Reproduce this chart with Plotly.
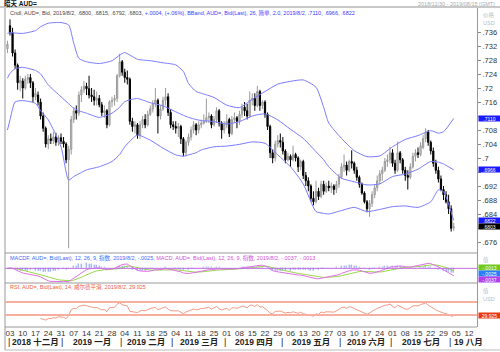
import numpy as np
import pandas as pd
import plotly.graph_objects as go

# ---------------- data (AUD= daily, 2018/11/30 - 2019/08/02) ----------------
open_ = [0.7312,
 0.7378,0.7358,0.7300,0.7265,0.7215, 0.7220,0.7200,0.7225,0.7230,0.7215,
 0.7175,0.7180,0.7160,0.7120,0.7085, 0.7040,0.7055,0.7050,0.7060,0.7045,
 0.7058,0.7048,0.7040,0.6995,0.7025, 0.7110,0.7135,0.7128,0.7180,0.7195,
 0.7205,0.7198,0.7180,0.7175,0.7165, 0.7170,0.7152,0.7130,0.7135,0.7095,
 0.7160,0.7165,0.7170,0.7235,0.7275, 0.7245,0.7230,0.7225,0.7105,0.7090,
 0.7095,0.7065,0.7095,0.7110,0.7095, 0.7125,0.7140,0.7155,0.7165,0.7120,
 0.7140,0.7165,0.7175,0.7130,0.7095, 0.7090,0.7085,0.7090,0.7055,0.7015,
 0.7045,0.7060,0.7080,0.7095,0.7080, 0.7095,0.7100,0.7105,0.7115,0.7120,
 0.7095,0.7110,0.7135,0.7100,0.7080, 0.7095,0.7110,0.7070,0.7110,0.7115,
 0.7105,0.7125,0.7145,0.7135,0.7120, 0.7165,0.7170,0.7150,0.7190,0.7150,
 0.7160,0.7125,0.7090,0.7015,0.7000, 0.7040,0.7050,0.7045,0.7020,0.6995,
 0.7005,0.6995,0.7010,0.7000,0.6975, 0.6990,0.6950,0.6935,0.6920,0.6885,
 0.6875,0.6905,0.6890,0.6925,0.6905, 0.6920,0.6915,0.6920,0.6910,0.6925,
 0.6945,0.6975,0.6980,0.6965,0.6990, 0.6985,0.6965,0.6945,0.6925,0.6900,
 0.6875,0.6855,0.6870,0.6895,0.6915, 0.6935,0.6955,0.6965,0.6990,0.6995,
 0.7015,0.6985,0.6965,0.7015,0.6995, 0.6965,0.6950,0.6945,0.6975,0.7005,
 0.7015,0.7010,0.7030,0.7055,0.7075, 0.7045,0.7020,0.6985,0.6965,0.6940,
 0.6910,0.6895,0.6875,0.6855,0.6800]
high = [0.7335,
 0.7396,0.7372,0.7310,0.7270,0.7235, 0.7228,0.7235,0.7240,0.7240,0.7220,
 0.7200,0.7190,0.7170,0.7130,0.7090, 0.7065,0.7070,0.7075,0.7072,0.7065,
 0.7070,0.7060,0.7045,0.7035,0.7120, 0.7145,0.7150,0.7190,0.7205,0.7220,
 0.7215,0.7235,0.7200,0.7195,0.7190, 0.7180,0.7160,0.7150,0.7140,0.7165,
 0.7175,0.7180,0.7240,0.7298,0.7280, 0.7255,0.7250,0.7230,0.7115,0.7105,
 0.7100,0.7105,0.7120,0.7125,0.7135, 0.7150,0.7165,0.7200,0.7170,0.7150,
 0.7175,0.7200,0.7185,0.7140,0.7105, 0.7105,0.7100,0.7095,0.7060,0.7050,
 0.7070,0.7090,0.7105,0.7100,0.7105, 0.7110,0.7125,0.7170,0.7130,0.7125,
 0.7120,0.7145,0.7140,0.7105,0.7105, 0.7125,0.7115,0.7120,0.7130,0.7120,
 0.7135,0.7155,0.7160,0.7155,0.7190, 0.7185,0.7185,0.7206,0.7195,0.7165,
 0.7165,0.7130,0.7095,0.7025,0.7050, 0.7065,0.7070,0.7060,0.7025,0.7015,
 0.7010,0.7035,0.7015,0.7005,0.6995, 0.6995,0.6960,0.6945,0.6925,0.6905,
 0.6935,0.6915,0.6935,0.6935,0.6930, 0.6935,0.6930,0.6925,0.6935,0.6955,
 0.6985,0.7010,0.6990,0.6995,0.7022, 0.6990,0.6975,0.6950,0.6930,0.6905,
 0.6880,0.6880,0.6905,0.6925,0.6950, 0.6965,0.6975,0.7000,0.7010,0.7032,
 0.7025,0.6995,0.7047,0.7020,0.7000, 0.6975,0.6965,0.6985,0.7015,0.7025,
 0.7030,0.7045,0.7065,0.7085,0.7080, 0.7050,0.7030,0.6995,0.6975,0.6950,
 0.6920,0.6905,0.6895,0.6865,0.6815]
low = [0.7300,
 0.7350,0.7290,0.7255,0.7195,0.7190, 0.7170,0.7195,0.7212,0.7200,0.7160,
 0.7165,0.7150,0.7110,0.7075,0.7030, 0.7025,0.7040,0.7040,0.7035,0.7035,
 0.7040,0.7030,0.6985,0.6742,0.7010, 0.7100,0.7110,0.7120,0.7160,0.7185,
 0.7180,0.7170,0.7160,0.7150,0.7150, 0.7145,0.7120,0.7115,0.7085,0.7090,
 0.7145,0.7150,0.7160,0.7230,0.7235, 0.7215,0.7210,0.7095,0.7075,0.7070,
 0.7055,0.7055,0.7085,0.7085,0.7090, 0.7120,0.7130,0.7145,0.7070,0.7110,
 0.7135,0.7150,0.7120,0.7085,0.7080, 0.7070,0.7060,0.7040,0.7005,0.7005,
 0.7035,0.7050,0.7070,0.7065,0.7070, 0.7085,0.7095,0.7100,0.7100,0.7085,
 0.7090,0.7100,0.7090,0.7055,0.7070, 0.7085,0.7060,0.7065,0.7100,0.7085,
 0.7095,0.7115,0.7120,0.7110,0.7115, 0.7150,0.7135,0.7145,0.7135,0.7140,
 0.7115,0.7080,0.7000,0.6985,0.6990, 0.7030,0.7030,0.7010,0.6985,0.6990,
 0.6975,0.6990,0.6990,0.6960,0.6965, 0.6940,0.6920,0.6905,0.6875,0.6865,
 0.6870,0.6880,0.6885,0.6895,0.6900, 0.6905,0.6900,0.6895,0.6900,0.6915,
 0.6940,0.6960,0.6950,0.6960,0.6970, 0.6955,0.6935,0.6915,0.6895,0.6870,
 0.6845,0.6832,0.6860,0.6885,0.6905, 0.6925,0.6935,0.6960,0.6975,0.6985,
 0.6975,0.6955,0.6960,0.6985,0.6955, 0.6935,0.6910,0.6940,0.6970,0.6990,
 0.7000,0.7005,0.7025,0.7045,0.7035, 0.7010,0.6975,0.6955,0.6930,0.6905,
 0.6880,0.6870,0.6840,0.6790,0.6792]
close = [0.7325,
 0.7358,0.7300,0.7265,0.7215,0.7222, 0.7200,0.7225,0.7230,0.7215,0.7175,
 0.7185,0.7160,0.7120,0.7085,0.7040, 0.7055,0.7050,0.7060,0.7045,0.7058,
 0.7048,0.7040,0.6995,0.7025,0.7110, 0.7135,0.7128,0.7180,0.7195,0.7205,
 0.7198,0.7180,0.7175,0.7165,0.7170, 0.7152,0.7130,0.7135,0.7095,0.7160,
 0.7165,0.7170,0.7235,0.7275,0.7245, 0.7230,0.7225,0.7105,0.7090,0.7095,
 0.7065,0.7095,0.7110,0.7095,0.7125, 0.7140,0.7155,0.7165,0.7120,0.7140,
 0.7165,0.7175,0.7130,0.7095,0.7090, 0.7085,0.7090,0.7055,0.7015,0.7045,
 0.7060,0.7080,0.7095,0.7080,0.7095, 0.7100,0.7105,0.7115,0.7120,0.7095,
 0.7110,0.7135,0.7100,0.7080,0.7095, 0.7105,0.7070,0.7110,0.7115,0.7105,
 0.7125,0.7145,0.7135,0.7120,0.7165, 0.7170,0.7150,0.7190,0.7150,0.7160,
 0.7125,0.7090,0.7015,0.7000,0.7040, 0.7050,0.7045,0.7020,0.6995,0.7005,
 0.6995,0.7010,0.7000,0.6975,0.6990, 0.6950,0.6935,0.6920,0.6885,0.6875,
 0.6905,0.6890,0.6925,0.6905,0.6920, 0.6915,0.6920,0.6910,0.6925,0.6945,
 0.6975,0.6980,0.6965,0.6990,0.6985, 0.6965,0.6945,0.6925,0.6900,0.6875,
 0.6855,0.6870,0.6895,0.6915,0.6935, 0.6955,0.6965,0.6990,0.6995,0.7015,
 0.6985,0.6965,0.7015,0.6995,0.6965, 0.6950,0.6945,0.6975,0.7005,0.7015,
 0.7010,0.7035,0.7055,0.7075,0.7045, 0.7020,0.6985,0.6965,0.6940,0.6910,
 0.6895,0.6875,0.6855,0.6799,0.6803]

band_dates = ["2018-11-30","2018-12-03","2018-12-05","2018-12-10","2018-12-17","2018-12-19",
 "2018-12-24","2018-12-31","2019-01-03","2019-01-07","2019-01-09","2019-01-14","2019-01-21",
 "2019-01-28","2019-01-31","2019-02-04","2019-02-07","2019-02-11","2019-02-18","2019-02-25",
 "2019-03-04","2019-03-07","2019-03-11","2019-03-14","2019-03-18","2019-03-25","2019-04-01",
 "2019-04-08","2019-04-15","2019-04-22","2019-04-29","2019-05-06","2019-05-13","2019-05-20",
 "2019-05-23","2019-05-27","2019-06-03","2019-06-10","2019-06-17","2019-06-24","2019-07-01",
 "2019-07-08","2019-07-15","2019-07-22","2019-07-25","2019-07-29","2019-08-02"]
bb_upper = [.7356,.7358,.7357,.7356,.7364,.7375,.7385,.7387,.7380,.7328,.7285,.7275,.7270,
 .7278,.7294,.7301,.7290,.7282,.7278,.7272,.7266,.7247,.7213,.7190,.7185,.7173,.7151,
 .7144,.7168,.7190,.7211,.7219,.7223,.7202,.7145,.7100,.7056,.7021,.7004,.7006,.7032,
 .7053,.7064,.7078,.7071,.7075,.7113]
bb_mid = [.7228,.7242,.7255,.7259,.7250,.7240,.7209,.7175,.7155,.7142,.7135,.7128,.7116,
 .7128,.7145,.7161,.7168,.7170,.7158,.7149,.7132,.7122,.7116,.7110,.7107,.7104,.7097,
 .7104,.7120,.7126,.7109,.7082,.7056,.7018,.6995,.6975,.6942,.6932,.6923,.6926,.6947,
 .6954,.6968,.6990,.6988,.6983,.6966]
bb_lower = [.7080,.7109,.7160,.7164,.7156,.7135,.7109,.7032,.6937,.6947,.6955,.6966,.6975,
 .6990,.7010,.7032,.7055,.7066,.7051,.7028,.7009,.7005,.7009,.7015,.7023,.7032,.7034,
 .7039,.7046,.7042,.7009,.6975,.6926,.6847,.6842,.6840,.6850,.6859,.6847,.6853,.6861,
 .6863,.6859,.6875,.6909,.6904,.6822]

price_ticks = [.676,.680,.684,.688,.692,.696,.700,.704,.708,.712,.716,.720,.724,.728,.732,.736]
hidden_ticks = [.680, .696, .712]          # covered by the value tags in the reference
month_names = ["2018 十二月","2019 一月","2019 二月","2019 三月","2019 四月",
               "2019 五月","2019 六月","2019 七月","19 八月"]

# ---------------- derived ----------------
dates = pd.bdate_range("2018-11-30", "2019-08-02")
xi = np.arange(len(dates))
pos = {d: i for i, d in enumerate(dates)}
bx = [pos[pd.Timestamp(s)] for s in band_dates]

c = pd.Series(close)
ema12 = c.ewm(span=12, adjust=False).mean()
ema26 = c.ewm(span=26, adjust=False).mean()
macd = ema12 - ema26
sig = macd.ewm(span=9, adjust=False).mean()
hist = macd - sig
dd = c.diff().fillna(0)
g = dd.clip(lower=0).ewm(alpha=1/14, adjust=False, min_periods=14).mean()
l = (-dd.clip(upper=0)).ewm(alpha=1/14, adjust=False, min_periods=14).mean()
rsi = 100 - 100 / (1 + g / l.replace(0, np.nan))

W, H = 500, 352
def PX(p): return p / W
def PY(p): return 1 - p / H
def XI(p): return (p - 10) / 2.55 + 1   # pixel -> bar index

mondays = pd.date_range("2018-12-03", "2019-08-12", freq="7D")
tickvals = [1 + 5 * k for k in range(len(mondays))]
ticktext = [m.strftime("%d") for m in mondays]

FONT = "Liberation Sans, Arial, Noto Sans CJK SC, sans-serif"

fig = go.Figure()
fig.add_trace(go.Candlestick(
    x=xi, open=open_, high=high, low=low, close=close, xaxis="x", yaxis="y",
    increasing=dict(line=dict(color="#9a9a9a", width=1), fillcolor="#d2d2d2"),
    decreasing=dict(line=dict(color="#000000", width=1), fillcolor="#000000"),
    whiskerwidth=0, showlegend=False, hoverinfo="skip"))
for vals in (bb_upper, bb_mid, bb_lower):
    fig.add_trace(go.Scatter(x=bx, y=vals, mode="lines", xaxis="x", yaxis="y",
                             line=dict(color="#7a7aff", width=1, shape="spline", smoothing=0.6),
                             showlegend=False, hoverinfo="skip"))

fig.add_trace(go.Bar(x=xi, y=hist, xaxis="x2", yaxis="y2", marker_color="#3a5cff",
                     width=0.35, showlegend=False, hoverinfo="skip"))
fig.add_trace(go.Scatter(x=xi, y=sig, mode="lines", xaxis="x2", yaxis="y2",
                         line=dict(color="#9ad84a", width=1), showlegend=False, hoverinfo="skip"))
fig.add_trace(go.Scatter(x=xi, y=macd, mode="lines", xaxis="x2", yaxis="y2",
                         line=dict(color="#e070e8", width=1), showlegend=False, hoverinfo="skip"))

fig.add_trace(go.Scatter(x=xi, y=rsi, mode="lines", xaxis="x3", yaxis="y3",
                         line=dict(color="#f49a84", width=1), showlegend=False, hoverinfo="skip"))

mn = float(min(macd.min(), sig.min(), hist.min()))
mx = float(max(macd.max(), sig.max(), hist.max()))
span = mx - mn

xr = [XI(5), XI(477)]
xdom = [PX(5), PX(477)]
common_x = dict(range=xr, domain=xdom, showgrid=False, zeroline=False, fixedrange=True,
                showline=False, ticks="")
fig.update_layout(
    width=W, height=H, margin=dict(l=0, r=0, t=0, b=0),
    paper_bgcolor="white", plot_bgcolor="white", font=dict(family=FONT, size=7, color="#333"),
    bargap=0,
    xaxis=dict(**common_x, anchor="y", showticklabels=False, rangeslider=dict(visible=False)),
    xaxis2=dict(**common_x, anchor="y2", showticklabels=False, matches="x"),
    xaxis3=dict(**common_x, anchor="y3", matches="x", tickvals=tickvals, ticktext=ticktext,
                tickfont=dict(size=8, color="#333")),
    yaxis=dict(domain=[PY(253), PY(8)], range=[0.7 - 95 / 3500, 0.7 + 150 / 3500],
               side="right", anchor="x", showgrid=False, zeroline=False,
               tickvals=price_ticks,
               ticktext=["" if any(abs(v - h) < 1e-9 for h in hidden_ticks)
                         else ("%.3f" % v).lstrip("0").rstrip("0") for v in price_ticks],
               ticks="outside", ticklen=3, tickcolor="#888", showline=True, linecolor="#999",
               tickfont=dict(size=7.5, color="#333")),
    yaxis2=dict(domain=[PY(283), PY(253)], range=[mn - 0.06 * span, mx + 0.55 * span],
                side="right", anchor="x2", showgrid=False,
                zeroline=False, showticklabels=False, showline=True, linecolor="#999"),
    yaxis3=dict(domain=[PY(327), PY(283)], range=[-7, 128], side="right", anchor="x3",
                showgrid=False, zeroline=False, showticklabels=False, showline=True,
                linecolor="#999"),
)

shapes = []
shapes.append(dict(type="rect", xref="paper", yref="paper", x0=0, x1=1, y0=PY(8), y1=PY(6),
                   fillcolor="#c8c8c8", line_width=0))
shapes.append(dict(type="line", xref="paper", yref="paper", x0=PX(5), x1=PX(5), y0=PY(350), y1=PY(8),
                   line=dict(color="#999", width=1)))
shapes.append(dict(type="line", xref="paper", yref="paper", x0=PX(5), x1=1, y0=PY(350), y1=PY(350),
                   line=dict(color="#bbb", width=1)))
for yp in (253, 283, 327):
    shapes.append(dict(type="line", xref="paper", yref="paper", x0=PX(5), x1=PX(477), y0=PY(yp), y1=PY(yp),
                       line=dict(color="#999", width=1)))
shapes.append(dict(type="line", xref="paper", yref="y2", x0=PX(5), x1=PX(477), y0=0, y1=0,
                   line=dict(color="#c070e0", width=1)))
for lv in (70, 30):
    shapes.append(dict(type="line", xref="paper", yref="y3", x0=PX(5), x1=PX(477), y0=lv, y1=lv,
                       line=dict(color="#f7b0a0", width=2)))

mstarts = [i for i in range(len(dates)) if i == 0 or dates[i].month != dates[i - 1].month][1:]
anns = []
seps = [m - 0.5 for m in mstarts]
for s in seps:
    anns.append(dict(x=s, y=PY(342), xref="x3", yref="paper", text="|", showarrow=False,
                     font=dict(size=9, color="#222"), xanchor="center", yanchor="middle"))
bounds = seps + [XI(477)]
for k, name in enumerate(month_names):
    if k < len(month_names) - 1:
        anns.append(dict(x=(bounds[k] + bounds[k + 1]) / 2, y=PY(342), xref="x3", yref="paper",
                         text="<b>%s</b>" % name, showarrow=False, font=dict(size=8.5, color="#222"),
                         xanchor="center", yanchor="middle"))
    else:
        anns.append(dict(x=bounds[k] + 0.9, y=PY(342), xref="x3", yref="paper",
                         text="<b>%s</b>" % name, showarrow=False, font=dict(size=8.5, color="#222"),
                         xanchor="left", yanchor="middle"))

def note(xp, yp, text, size=6, color="#333", anchor="left"):
    anns.append(dict(x=PX(xp), y=PY(yp), xref="paper", yref="paper", text=text, showarrow=False,
                     font=dict(size=size, color=color), xanchor=anchor, yanchor="middle"))

note(2, 3.5, "<b>暗天 AUD=</b>", size=6.5, color="#111")
note(497, 4, "2018/11/30 - 2019/08/15 (GMT)", size=5.5, color="#aaa", anchor="right")
note(8, 13, '<span style="color:#444">Cndl, AUD=, Bid, 2019/8/2, .6800, .6815, .6792, .6803, </span>'
            '<span style="color:#3a3aff">+.0004, (+.06%), BBand, AUD=, Bid(Last), 26, 简单, 2.0, 2019/8/2, .7110, .6966, .6822</span>',
     size=5.5)
note(8, 258, '<span style="color:#3a6aff">MACDF, AUD=, Bid(Last), 12, 26, 9, 指数, 2019/8/2, -.0025, </span>'
             '<span style="color:#d050d8">MACD, AUD=, Bid(Last), 12, 26, 9, 指数, 2019/8/2, -.0037, -.0013</span>',
     size=5.5)
note(8, 287, "RSI, AUD=, Bid(Last), 14, 威尔德平滑, 2019/8/2, 29.925", size=5.5, color="#f06040")
note(481, 15, "价格", size=5.5, color="#bbb")
note(481, 23, "USD", size=5.5, color="#bbb")
note(481, 260, "值", size=5.5, color="#bbb")
note(481, 291, "值", size=5.5, color="#bbb")
note(481, 299, "USD", size=5.5, color="#bbb")

def tag(yv, yref, text, bg, fg="white"):
    anns.append(dict(x=PX(477.5), y=yv, xref="paper", yref=yref, text=text, showarrow=False,
                     font=dict(size=5, color=fg), bgcolor=bg, xanchor="left", yanchor="middle",
                     width=21, height=5, borderpad=0))

tag(bb_upper[-1], "y", ".7110", "#1a1aff")
tag(bb_mid[-1], "y", ".6966", "#1a1aff")
tag(bb_lower[-1], "y", ".6822", "#1a1aff")
tag(close[-1], "y", ".6803", "#000000")
tag(PY(267.5), "paper", "-.0013", "#72c81e")
tag(PY(273.5), "paper", "-.0025", "#2a7cff")
tag(PY(279.5), "paper", "-.0037", "#b040e8")
tag(PY(315), "paper", "29.925", "#e83a10")

fig.update_layout(shapes=shapes, annotations=anns)
fig.write_html("out.html")
